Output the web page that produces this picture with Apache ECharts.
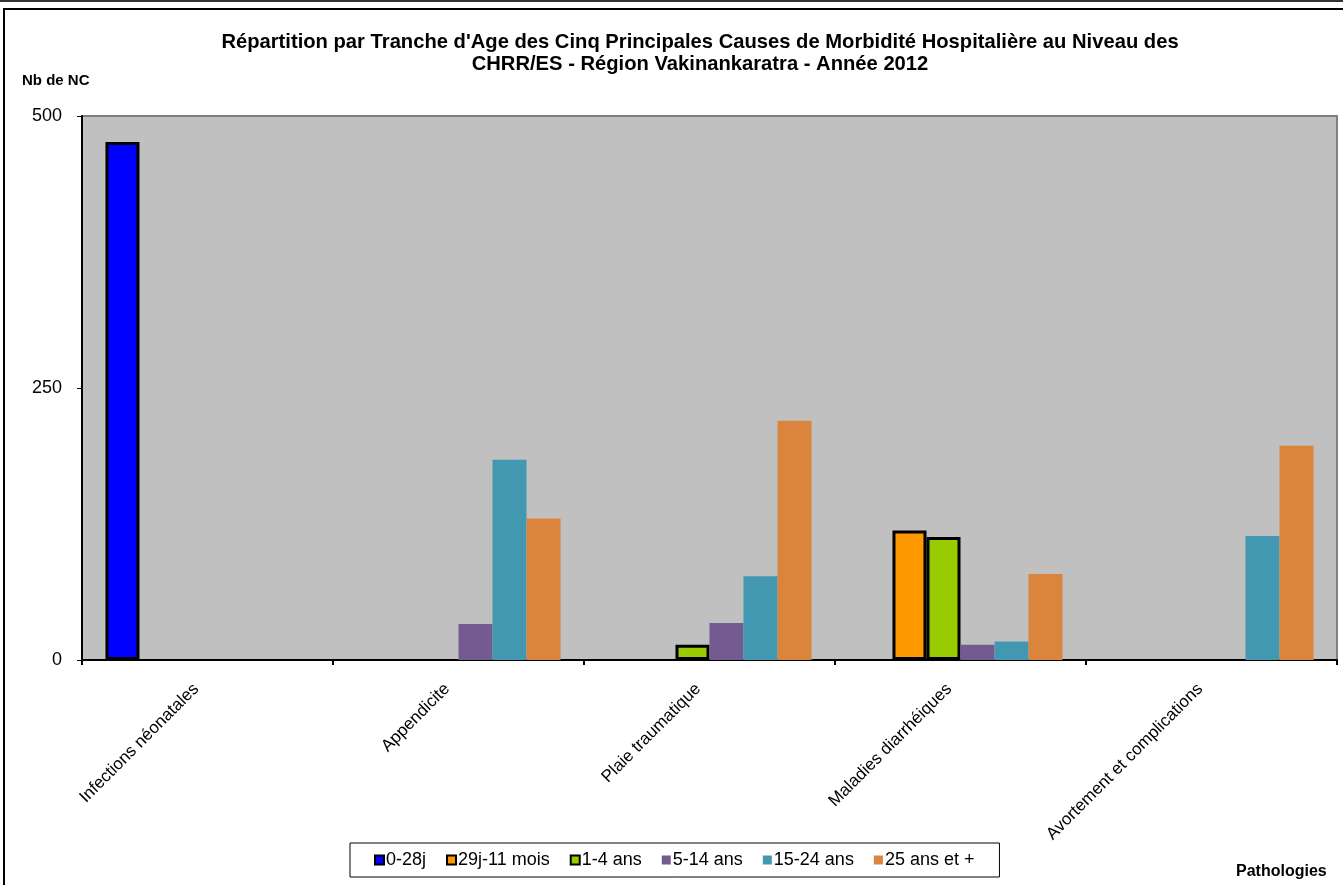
<!DOCTYPE html>
<html><head><meta charset="utf-8">
<script src="https://cdn.jsdelivr.net/npm/echarts@6/dist/echarts.min.js"></script>
<style>html,body{margin:0;padding:0;background:#fff}#c{width:1343px;height:885px}</style>
</head><body><div id="c"></div>
<script>
const categories = ['Infections néonatales','Appendicite','Plaie traumatique','Maladies diarrhéiques','Avortement et complications'];
const seriesNames = ['0-28j','29j-11 mois','1-4 ans','5-14 ans','15-24 ans','25 ans et +'];
const v0_28j = [476, 0, 0, 0, 0];
const v29j_11m = [0, 0, 0, 119, 0];
const v1_4 = [0, 0, 14, 113, 0];
const v5_14 = [0, 33, 34, 14, 0];
const v15_24 = [0, 184, 77, 17, 114];
const v25plus = [0, 130, 220, 79, 197];
const yTicks = [0, 250, 500];
const colors = ['#0000FF','#FF9900','#99CC00','#735A91','#4298B0','#DB843D'];
const bordered = [true, true, true, false, false, false];
const allValues = [v0_28j, v29j_11m, v1_4, v5_14, v15_24, v25plus];

const FONT = '"Liberation Sans", Arial, sans-serif';
const chart = echarts.init(document.getElementById('c'), null, {renderer:'canvas'});
const series = seriesNames.map((n,i)=>({
  name:n, type:'bar', data: allValues[i].map(v => v === 0 ? '-' : v),
  barGap:'0%', barCategoryGap:'18.7%',
  itemStyle:{color:colors[i], borderColor:'#000', borderWidth: bordered[i]?3:0},
  emphasis:{disabled:true}
}));
chart.setOption({
  animation:false,
  textStyle:{fontFamily:FONT},
  title:{text:"Répartition par Tranche d'Age des Cinq Principales Causes de Morbidité Hospitalière au Niveau des\nCHRR/ES - Région Vakinankaratra - Année 2012",
    left:695, textAlign:'center', top:26,
    textStyle:{fontFamily:FONT, fontWeight:'bold', fontSize:20.2, color:'#000', lineHeight:22}},
  grid:{left:82, right:6, top:116, bottom:225, show:true, backgroundColor:'#C0C0C0', borderColor:'#808080', borderWidth:2},
  legend:{left:350, top:843, itemWidth:9, itemHeight:9, itemGap:20,
    padding:[8,25,8,24], borderColor:'#000', borderWidth:1,
    textStyle:{fontFamily:FONT, fontSize:18, lineHeight:18, color:'#000', padding:[0,0,0,-3]},
    icon:'rect',
    data: seriesNames.map((n,i)=>({name:n, itemStyle:{borderColor:'#000', borderWidth: bordered[i]?2:0}}))},
  xAxis:{type:'category', data:categories,
    axisLine:{lineStyle:{color:'#000', width:2}},
    axisTick:{show:true, length:5, lineStyle:{color:'#000', width:2}, alignWithLabel:false},
    axisLabel:{rotate:45, fontFamily:FONT, fontSize:17, color:'#000', margin:15, interval:0, padding:[0,16,0,0]}
  },
  yAxis:{type:'value', min:yTicks[0], max:yTicks[yTicks.length-1], interval:250,
    axisLine:{show:true, lineStyle:{color:'#000', width:2}},
    axisTick:{show:true, length:5, lineStyle:{color:'#000', width:1}},
    splitLine:{show:false},
    axisLabel:{fontFamily:FONT, fontSize:18, color:'#000', margin:20}
  },
  graphic:[
    {type:'rect', shape:{x:0,y:0,width:1343,height:2}, style:{fill:'#333'}, silent:true},
    {type:'line', shape:{x1:3,y1:9,x2:1343,y2:9}, style:{stroke:'#000', lineWidth:2}, silent:true},
    {type:'line', shape:{x1:4,y1:9,x2:4,y2:885}, style:{stroke:'#000', lineWidth:2}, silent:true},
    {type:'text', left:22, top:73, style:{text:'Nb de NC', font:'bold 15px '+FONT, fill:'#000'}, silent:true},
    {type:'text', left:1236, top:864, style:{text:'Pathologies', font:'bold 16px '+FONT, fill:'#000'}, silent:true}
  ],
  series: series
});
</script></body></html>
